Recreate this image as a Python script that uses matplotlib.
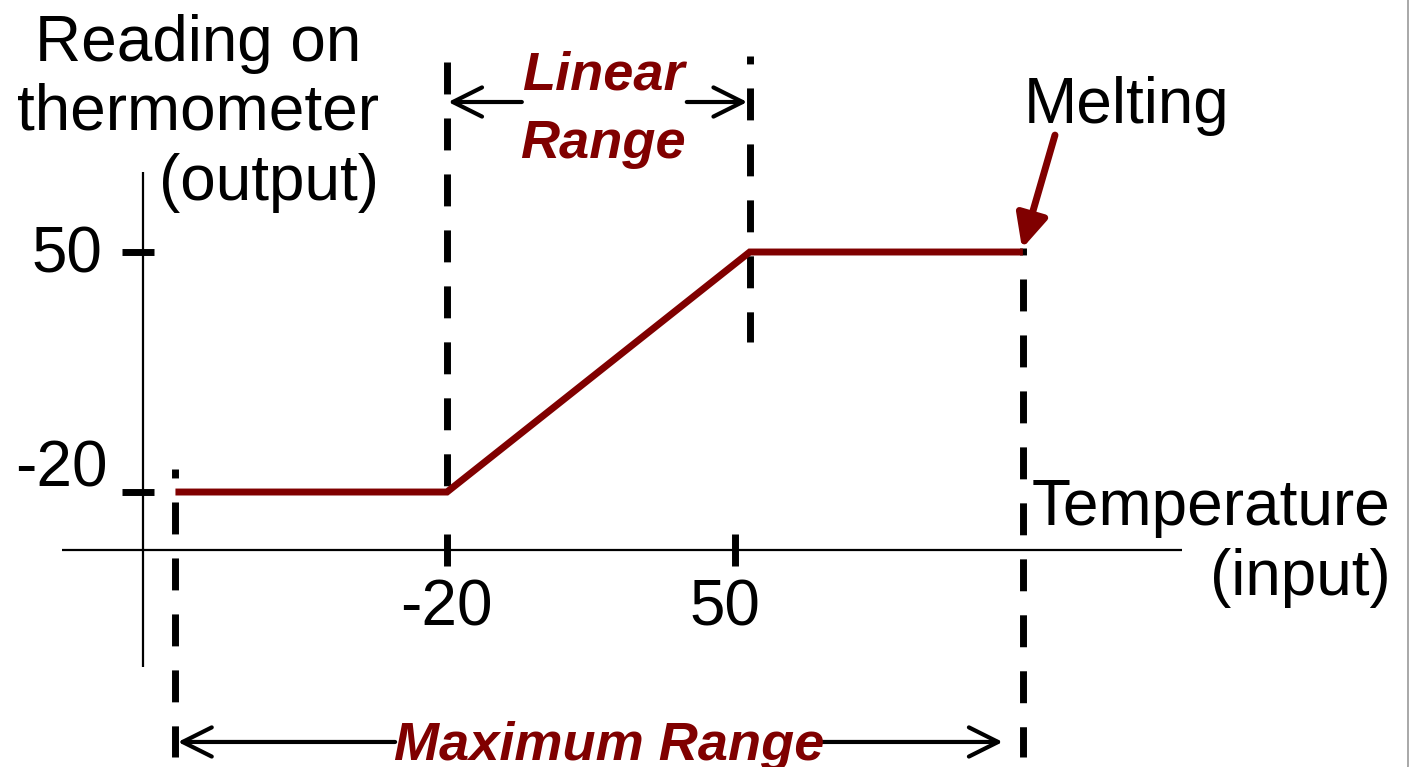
import matplotlib
matplotlib.use('Agg')
import matplotlib.pyplot as plt
from matplotlib.patches import FancyBboxPatch

plt.rcParams['font.family'] = ['Liberation Sans', 'DejaVu Sans']

DARK_RED = '#800000'

# ---- chart values (temperature in -> reading out) ----
temp_ticks = [-20, 50]
temp_tick_labels = ['-20', '50']
reading_ticks = [-20, 50]
reading_tick_labels = ['-20', '50']
curve_temp = [-86, -20, 53.6, 120]
curve_reading = [-20, -20, 50, 50]
linear_range = [-20, 53.6]
maximum_range = [-86, 120]
melting_point = (120, 50)

W, H = 1410, 767
fig = plt.figure(figsize=(W / 100, H / 100), dpi=100)
ax = fig.add_axes([0, 0, 1, 1])
ax.set_xlim(-128.65, 214.1)
ax.set_ylim(-100.2, 123.5)
ax.axis('off')

# faint rounded frame edge on the right side
frame = FancyBboxPatch((-60 / W, -14 / H), (W - 2 + 60) / W, (H + 80) / H,
                       boxstyle='round,pad=0,rounding_size=0.02',
                       transform=fig.transFigure, facecolor='none',
                       edgecolor='#9a9a9a', lw=1.2, zorder=0)
fig.patches.append(frame)

NORMAL = 46
BOLD = 39

# axis lines
x_axis_y = -36.9
y_axis_x = -93.9
ax.plot([-113.6, 158.6], [x_axis_y, x_axis_y], color='black', lw=1.6,
        solid_capstyle='butt', zorder=2)
ax.plot([y_axis_x, y_axis_x], [-71.0, 73.3], color='black', lw=1.6,
        solid_capstyle='butt', zorder=2)

# thick tick marks
ax.plot(temp_ticks, [x_axis_y] * len(temp_ticks), ls='none', marker='|',
        ms=23, mew=5, color='black', zorder=3)
ax.plot([y_axis_x - 1.1] * len(reading_ticks), reading_ticks, ls='none',
        marker='_', ms=22.5, mew=5, color='black', zorder=3)

# tick labels
for t, lab in zip(temp_ticks, temp_tick_labels):
    xoff = -0.2 if t < 0 else -2.4
    ax.text(t + xoff, -58.8, lab, ha='center', va='baseline', fontsize=NORMAL)
ax.text(-103.7, 43.9, reading_tick_labels[1], ha='right', va='baseline',
        fontsize=NORMAL)
ax.text(-102.5, -18.5, reading_tick_labels[0], ha='right', va='baseline',
        fontsize=NORMAL)

# dashed guide lines
DASH = (4.6, 3.46)


def dashed(x, ytop, ybot, offset):
    ax.plot([x, x], [ytop, ybot], color='black', lw=5,
            ls=(offset, DASH), dash_capstyle='butt', zorder=3)


dashed(linear_range[0], 105.4, -18.5, 0)
dashed(linear_range[1], 107.2, 23.75, 3.46)
dashed(maximum_range[0], -13.4, -97.3, 3.31)
dashed(maximum_range[1], 51.2, -97.3, 3.6)

# response curve
ax.plot(curve_temp, curve_reading, color=DARK_RED, lw=5,
        solid_capstyle='butt', solid_joinstyle='miter', zorder=4)

# range arrows
ARROW = '->,head_length=21,head_width=10.5'


def half_arrow(tail, tip):
    ax.annotate('', xy=tip, xytext=tail,
                arrowprops=dict(arrowstyle=ARROW, lw=3, color='black',
                                shrinkA=0, shrinkB=0, mutation_scale=1))


lin_y = 93.75
half_arrow((-1.8, lin_y), (linear_range[0] + 0.3, lin_y))
half_arrow((38.3, lin_y), (linear_range[1] - 0.6, lin_y))
ax.text(17.9, 97.5, 'Linear', ha='center', va='baseline', fontsize=BOLD,
        fontweight='bold', fontstyle='italic', color=DARK_RED)
ax.text(17.9, 77.4, 'Range', ha='center', va='baseline', fontsize=BOLD,
        fontweight='bold', fontstyle='italic', color=DARK_RED)

max_y = -92.9
half_arrow((-32.6, max_y), (maximum_range[0] + 0.6, max_y))
half_arrow((71.2, max_y), (115.1, max_y))
ax.text(19.4, -98.2, 'Maximum Range', ha='center', va='baseline',
        fontsize=BOLD, fontweight='bold', fontstyle='italic', color=DARK_RED)

# melting annotation
ax.annotate('', xy=(melting_point[0] - 0.2, melting_point[1] + 1.0),
            xytext=(127.8, 84.1),
            arrowprops=dict(arrowstyle='-|>,head_length=20,head_width=9.5',
                            lw=5, color=DARK_RED, shrinkA=0, shrinkB=0,
                            mutation_scale=1), zorder=5)
ax.text(120.3, 87.6, 'Melting', ha='left', va='baseline', fontsize=NORMAL)

# axis titles
ax.text(-80.5, 105.6, 'Reading on', ha='center', va='baseline', fontsize=NORMAL)
ax.text(-80.5, 85.8, 'thermometer', ha='center', va='baseline', fontsize=NORMAL)
ax.text(-36.4, 65.2, '(output)', ha='right', va='baseline', fontsize=NORMAL)
ax.text(209.4, -29.6, 'Temperature', ha='right', va='baseline', fontsize=NORMAL)
ax.text(209.4, -50.0, '(input)', ha='right', va='baseline', fontsize=NORMAL)

fig.savefig('out.png', dpi=100)
